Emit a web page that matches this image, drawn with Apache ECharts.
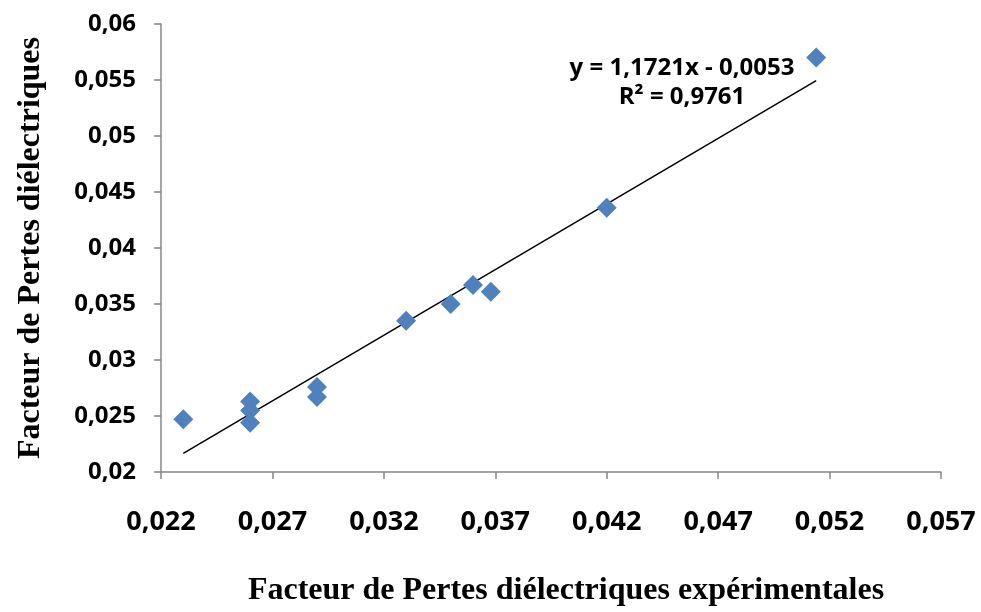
<!DOCTYPE html>
<html>
<head>
<meta charset="utf-8">
<script src="https://cdn.jsdelivr.net/npm/echarts@6/dist/echarts.min.js"></script>
<style>html,body{margin:0;padding:0;background:#fff}#c{width:981px;height:612px}</style>
</head>
<body>
<div id="c"></div>
<script>
// Data
const xValues = [0.023, 0.026, 0.026, 0.026, 0.029, 0.029, 0.033, 0.035, 0.036, 0.0368, 0.042, 0.0514];
const yValues = [0.0247, 0.0263, 0.0255, 0.0244, 0.0276, 0.0267, 0.0335, 0.0350, 0.0367, 0.0361, 0.0436, 0.0570];
const xTicks = [0.022, 0.027, 0.032, 0.037, 0.042, 0.047, 0.052, 0.057];
const yTicks = [0.02, 0.025, 0.03, 0.035, 0.04, 0.045, 0.05, 0.055, 0.06];
const trendSlope = 1.1721;
const trendIntercept = -0.0053;
const r2 = 0.9761;
const xTitle = 'Facteur de Pertes diélectriques expérimentales';
const yTitle = 'Facteur de Pertes diélectriques';

const points = xValues.map((x, i) => [x, yValues[i]]);
const xMin = Math.min(...xValues), xMax = Math.max(...xValues);
const trend = [[xMin, trendSlope * xMin + trendIntercept], [xMax, trendSlope * xMax + trendIntercept]];
const fmt = v => String(v).replace('.', ',');
const eqText = 'y = ' + fmt(trendSlope) + 'x - ' + fmt(Math.abs(trendIntercept));
const r2Text = 'R² = ' + fmt(r2);

const axisCol = '#868686';
const tickFont = 'Open Sans';
const titleStyle = { fontFamily: 'Liberation Serif', fontWeight: 'bold', fontSize: 32, color: '#000' };
const chart = echarts.init(document.getElementById('c'), null, { renderer: 'canvas' });
chart.setOption({
  animation: false,
  backgroundColor: '#fff',
  grid: { left: 161, right: 40, top: 24, bottom: 140 },
  xAxis: {
    type: 'value', min: xTicks[0], max: xTicks[xTicks.length - 1],
    splitLine: { show: false },
    axisLine: { lineStyle: { color: axisCol, width: 1.5 } },
    axisTick: { customValues: xTicks, length: 7, lineStyle: { color: axisCol, width: 1.5 } },
    axisLabel: { customValues: xTicks, margin: 37, formatter: fmt, fontFamily: tickFont, fontWeight: 'bold', fontSize: 27, color: '#000' },
    name: xTitle, nameLocation: 'middle', nameGap: 103,
    nameTextStyle: Object.assign({ padding: [0, 0, 0, 30] }, titleStyle)
  },
  yAxis: {
    type: 'value', min: yTicks[0], max: yTicks[yTicks.length - 1],
    splitLine: { show: false },
    axisLine: { show: true, lineStyle: { color: axisCol, width: 1.5 } },
    axisTick: { show: true, customValues: yTicks, length: 7, lineStyle: { color: axisCol, width: 1.5 } },
    axisLabel: { customValues: yTicks, margin: 25, formatter: fmt, fontFamily: tickFont, fontWeight: 'bold', fontSize: 24, color: '#000' },
    name: yTitle, nameLocation: 'middle', nameGap: 114,
    nameTextStyle: titleStyle
  },
  series: [
    {
      type: 'line', data: trend, symbol: 'none', z: 1,
      lineStyle: { color: '#000', width: 1.5 }
    },
    {
      type: 'scatter', data: points, symbol: 'diamond', symbolSize: 20, z: 2,
      itemStyle: { color: '#4F81BD', opacity: 1 }
    }
  ],
  graphic: [
    { type: 'text', x: 682, y: 68, style: { text: eqText, x: 0, y: 0, align: 'center', verticalAlign: 'middle', font: 'bold 24px "Open Sans"', fill: '#000' } },
    { type: 'text', x: 682, y: 97, style: { text: r2Text, x: 0, y: 0, align: 'center', verticalAlign: 'middle', font: 'bold 24px "Open Sans"', fill: '#000' } }
  ]
});
</script>
</body>
</html>
